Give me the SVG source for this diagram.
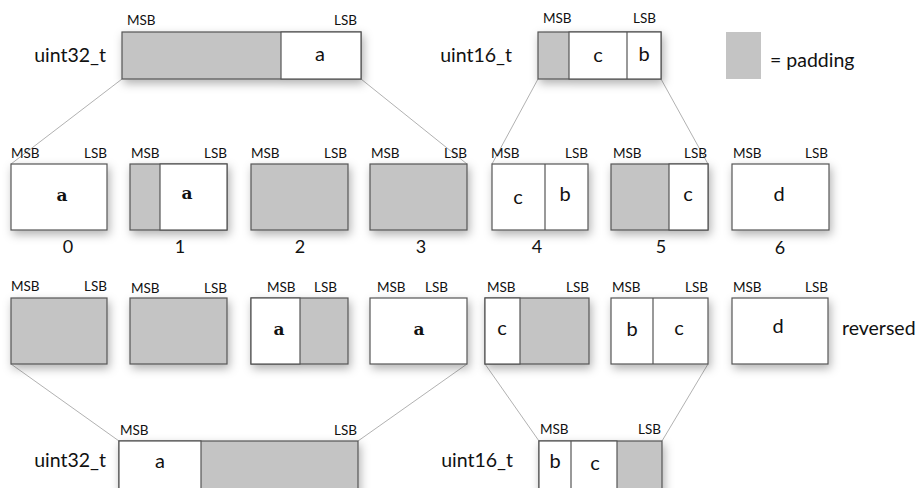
<svg xmlns="http://www.w3.org/2000/svg" width="921" height="488" viewBox="0 0 921 488">
<defs>
<filter id="sh" x="-30%" y="-40%" width="160%" height="190%">
<feDropShadow dx="2" dy="4" stdDeviation="5" flood-color="#000" flood-opacity="0.3"/>
</filter>
<style>
text{font-family:Lato,"Open Sans","DejaVu Sans",sans-serif;fill:#111}
.lbl{font-size:13.5px}
.big{font-size:19.5px}
.num{font-size:18px;text-anchor:middle}
.v{font-size:20px;text-anchor:middle}
.sv{font-family:"DejaVu Serif","Liberation Serif",serif;font-size:17px;font-weight:bold;text-anchor:middle}
.e{text-anchor:end}
.w{fill:#fff;stroke:#555;stroke-width:1.2}
.g{fill:#c4c4c4;stroke:#555;stroke-width:1.2}
.d{stroke:#555;stroke-width:1.2}
.c{stroke:#a8a8a8;stroke-width:0.9;fill:none}
</style>
</defs>
<rect width="921" height="488" fill="#fff"/>

<g id="connectors">
<line class="c" x1="122" y1="79" x2="11" y2="164"/>
<line class="c" x1="361" y1="79" x2="467" y2="164"/>
<line class="c" x1="538" y1="79" x2="492" y2="164"/>
<line class="c" x1="661" y1="79" x2="708" y2="164"/>
<line class="c" x1="11" y1="364" x2="119" y2="441"/>
<line class="c" x1="467" y1="364" x2="358" y2="441"/>
<line class="c" x1="485" y1="364" x2="539" y2="441"/>
<line class="c" x1="708" y1="364" x2="662" y2="441"/>
</g>

<g id="top32">
<text class="big e" x="106" y="62">uint32_t</text>
<g filter="url(#sh)">
<rect class="g" x="122" y="32" width="239" height="47"/>
<rect class="w" x="281" y="32" width="80" height="47"/>
</g>
<text class="lbl" x="127" y="25">MSB</text>
<text class="lbl e" x="357" y="25">LSB</text>
<text class="v" x="320" y="61">a</text>
</g>

<g id="top16">
<text class="big e" x="512" y="62">uint16_t</text>
<g filter="url(#sh)">
<rect class="g" x="538" y="32" width="123" height="47"/>
<rect class="w" x="569" y="32" width="92" height="47"/>
<line class="d" x1="627" y1="32" x2="627" y2="79"/>
</g>
<text class="lbl" x="543" y="23">MSB</text>
<text class="lbl e" x="656" y="23">LSB</text>
<text class="v" x="598" y="62">c</text>
<text class="v" x="644" y="61">b</text>
</g>

<g id="legend">
<rect x="726" y="32" width="35" height="47" fill="#c4c4c4"/>
<text class="big" x="770" y="67">= padding</text>
</g>

<g id="b0">
<g filter="url(#sh)"><rect class="w" x="11" y="164" width="96" height="66"/></g>
<text class="lbl" x="11" y="158">MSB</text><text class="lbl e" x="107" y="158">LSB</text>
<text class="sv" x="62" y="201">a</text>
<text class="num" x="68" y="253">0</text>
</g>
<g id="b1">
<g filter="url(#sh)"><rect class="g" x="130" y="164" width="97" height="66"/><rect class="w" x="160" y="164" width="67" height="66"/></g>
<text class="lbl" x="131" y="158">MSB</text><text class="lbl e" x="227" y="158">LSB</text>
<text class="sv" x="187" y="199">a</text>
<text class="num" x="180" y="253">1</text>
</g>
<g id="b2">
<g filter="url(#sh)"><rect class="g" x="251" y="164" width="97" height="66"/></g>
<text class="lbl" x="251" y="158">MSB</text><text class="lbl e" x="347" y="158">LSB</text>
<text class="num" x="300" y="253">2</text>
</g>
<g id="b3">
<g filter="url(#sh)"><rect class="g" x="370" y="164" width="97" height="66"/></g>
<text class="lbl" x="371" y="158">MSB</text><text class="lbl e" x="467" y="158">LSB</text>
<text class="num" x="421" y="253">3</text>
</g>
<g id="b4">
<g filter="url(#sh)"><rect class="w" x="492" y="164" width="96" height="66"/><line class="d" x1="545" y1="164" x2="545" y2="230"/></g>
<text class="lbl" x="491" y="158">MSB</text><text class="lbl e" x="588" y="158">LSB</text>
<text class="v" x="518" y="204">c</text>
<text class="v" x="565" y="201">b</text>
<text class="num" x="537" y="253">4</text>
</g>
<g id="b5">
<g filter="url(#sh)"><rect class="g" x="611" y="164" width="97" height="66"/><rect class="w" x="669" y="164" width="39" height="66"/></g>
<text class="lbl" x="613" y="158">MSB</text><text class="lbl e" x="707" y="158">LSB</text>
<text class="v" x="688" y="201">c</text>
<text class="num" x="661" y="253">5</text>
</g>
<g id="b6">
<g filter="url(#sh)"><rect class="w" x="732" y="164" width="97" height="66"/></g>
<text class="lbl" x="733" y="158">MSB</text><text class="lbl e" x="828" y="158">LSB</text>
<text class="v" x="779" y="201">d</text>
<text class="num" x="780" y="254">6</text>
</g>

<g id="r0">
<g filter="url(#sh)"><rect class="g" x="11" y="298" width="96" height="66"/></g>
<text class="lbl" x="11" y="291">MSB</text><text class="lbl e" x="107" y="291">LSB</text>
</g>
<g id="r1">
<g filter="url(#sh)"><rect class="g" x="130" y="298" width="97" height="66"/></g>
<text class="lbl" x="131" y="293">MSB</text><text class="lbl e" x="227" y="293">LSB</text>
</g>
<g id="r2">
<g filter="url(#sh)"><rect class="g" x="251" y="298" width="97" height="66"/><rect class="w" x="251" y="298" width="49" height="66"/></g>
<text class="lbl" x="267" y="292">MSB</text><text class="lbl e" x="337" y="292">LSB</text>
<text class="sv" x="279" y="335">a</text>
</g>
<g id="r3">
<g filter="url(#sh)"><rect class="w" x="370" y="298" width="97" height="66"/></g>
<text class="lbl" x="377" y="292">MSB</text><text class="lbl e" x="448" y="292">LSB</text>
<text class="sv" x="419" y="335">a</text>
</g>
<g id="r4">
<g filter="url(#sh)"><rect class="g" x="485" y="298" width="104" height="66"/><rect class="w" x="485" y="298" width="35" height="66"/></g>
<text class="lbl" x="487" y="292">MSB</text><text class="lbl e" x="589" y="292">LSB</text>
<text class="v" x="502" y="335">c</text>
</g>
<g id="r5">
<g filter="url(#sh)"><rect class="w" x="611" y="298" width="97" height="66"/><line class="d" x1="653" y1="298" x2="653" y2="364"/></g>
<text class="lbl" x="612" y="292">MSB</text><text class="lbl e" x="708" y="292">LSB</text>
<text class="v" x="632" y="336">b</text>
<text class="v" x="679" y="335">c</text>
</g>
<g id="r6">
<g filter="url(#sh)"><rect class="w" x="732" y="298" width="96" height="66"/></g>
<text class="lbl" x="733" y="292">MSB</text><text class="lbl e" x="828" y="292">LSB</text>
<text class="v" x="778" y="333">d</text>
</g>
<text class="big" x="842" y="335">reversed</text>

<g id="bot32">
<text class="big e" x="106" y="467">uint32_t</text>
<g filter="url(#sh)">
<rect class="g" x="119" y="441" width="239" height="60"/>
<rect class="w" x="119" y="441" width="82" height="60"/>
</g>
<text class="lbl" x="120" y="435">MSB</text>
<text class="lbl e" x="357" y="435">LSB</text>
<text class="v" x="160" y="468">a</text>
</g>

<g id="bot16">
<text class="big e" x="513" y="467">uint16_t</text>
<g filter="url(#sh)">
<rect class="g" x="539" y="441" width="123" height="60"/>
<rect class="w" x="539" y="441" width="78" height="60"/>
<line class="d" x1="571" y1="441" x2="571" y2="501"/>
</g>
<text class="lbl" x="540" y="434">MSB</text>
<text class="lbl e" x="661" y="434">LSB</text>
<text class="v" x="555" y="468">b</text>
<text class="v" x="595" y="470">c</text>
</g>
</svg>
